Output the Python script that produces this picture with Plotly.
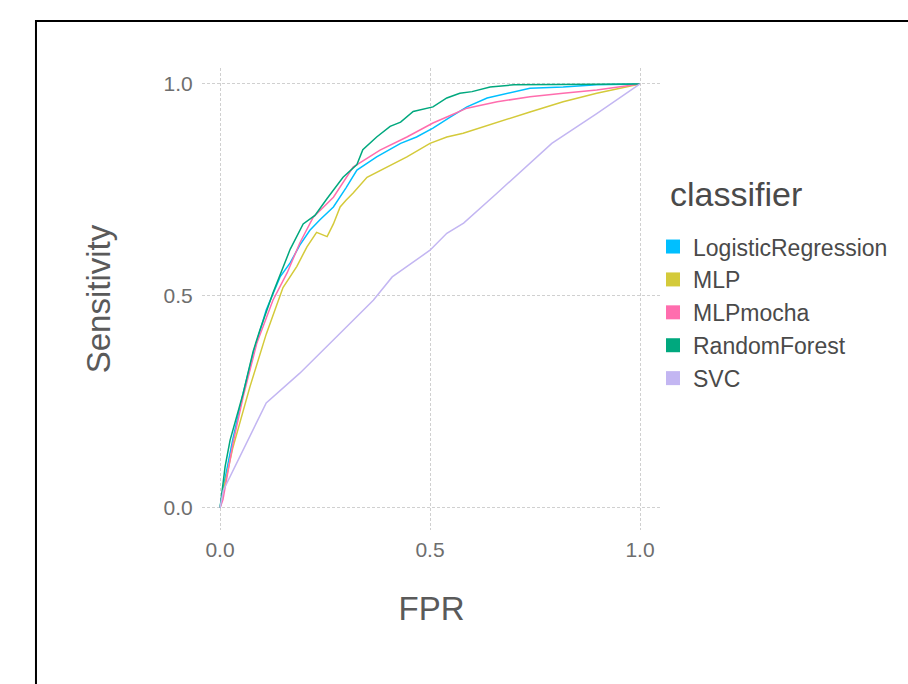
import plotly.graph_objects as go

classifiers = ["LogisticRegression", "MLP", "MLPmocha", "RandomForest", "SVC"]
colors = ["#00BFFF", "#D4CA3A", "#FF6DAE", "#00A87E", "#C3B6F2"]

lr_fpr = [0.0, 0.01, 0.03, 0.055, 0.079, 0.11, 0.143, 0.167, 0.19, 0.214, 0.238, 0.27, 0.3, 0.326, 0.373, 0.43, 0.468, 0.507, 0.548, 0.588, 0.636, 0.70, 0.738, 0.817, 0.897, 1.0]
lr_tpr = [0.0, 0.06, 0.16, 0.27, 0.365, 0.467, 0.545, 0.578, 0.62, 0.655, 0.68, 0.71, 0.755, 0.797, 0.828, 0.86, 0.875, 0.896, 0.922, 0.946, 0.967, 0.982, 0.99, 0.993, 0.998, 1.0]

mlp_fpr = [0.0, 0.01, 0.03, 0.071, 0.11, 0.15, 0.183, 0.207, 0.23, 0.255, 0.27, 0.286, 0.30, 0.317, 0.35, 0.398, 0.445, 0.5, 0.54, 0.579, 0.66, 0.738, 0.817, 0.897, 1.0]
mlp_tpr = [0.0, 0.05, 0.14, 0.285, 0.41, 0.52, 0.57, 0.616, 0.65, 0.64, 0.67, 0.71, 0.726, 0.743, 0.78, 0.804, 0.828, 0.86, 0.875, 0.884, 0.91, 0.934, 0.958, 0.978, 1.0]

mocha_fpr = [0.0, 0.007, 0.031, 0.055, 0.088, 0.126, 0.16, 0.19, 0.222, 0.27, 0.317, 0.381, 0.445, 0.507, 0.54, 0.588, 0.66, 0.738, 0.817, 0.897, 1.0]
mocha_tpr = [0.0, 0.02, 0.153, 0.262, 0.39, 0.49, 0.555, 0.625, 0.686, 0.733, 0.804, 0.844, 0.875, 0.908, 0.922, 0.943, 0.958, 0.97, 0.978, 0.986, 1.0]

rf_fpr = [0.0, 0.012, 0.024, 0.055, 0.079, 0.095, 0.126, 0.15, 0.167, 0.198, 0.226, 0.255, 0.293, 0.326, 0.34, 0.373, 0.405, 0.43, 0.46, 0.507, 0.54, 0.571, 0.60, 0.643, 0.70, 1.0]
rf_tpr = [0.0, 0.097, 0.16, 0.27, 0.37, 0.42, 0.507, 0.57, 0.61, 0.67, 0.69, 0.73, 0.78, 0.81, 0.845, 0.875, 0.90, 0.91, 0.935, 0.946, 0.967, 0.978, 0.982, 0.993, 0.998, 1.0]

svc_fpr = [0.0, 0.008, 0.11, 0.19, 0.286, 0.365, 0.41, 0.5, 0.54, 0.58, 0.66, 0.738, 0.79, 0.897, 1.0]
svc_tpr = [0.0, 0.042, 0.248, 0.318, 0.412, 0.49, 0.545, 0.608, 0.648, 0.672, 0.743, 0.813, 0.86, 0.93, 1.0]

fprs = [lr_fpr, mlp_fpr, mocha_fpr, rf_fpr, svc_fpr]
tprs = [lr_tpr, mlp_tpr, mocha_tpr, rf_tpr, svc_tpr]

x_ticks = [0.0, 0.5, 1.0]
y_ticks = [0.0, 0.5, 1.0]
tick_text = ["0.0", "0.5", "1.0"]

FONT = "Liberation Sans, Arial, sans-serif"

fig = go.Figure()
for name, c, fx, ty in zip(classifiers, colors, fprs, tprs):
    fig.add_trace(go.Scatter(x=fx, y=ty, mode="lines", line=dict(color=c, width=1.5),
                             name=name, showlegend=False, hoverinfo="x+y+name"))
for name, c in zip(classifiers, colors):
    fig.add_trace(go.Scatter(x=[None], y=[None], mode="markers",
                             marker=dict(symbol="square", size=14, color=c),
                             name=name, showlegend=True))

grid = dict(showgrid=True, gridcolor="#D0D0D0", gridwidth=1.2, griddash="3px,2px",
            zeroline=False, showline=False, ticks="outside",
            tickcolor="rgba(0,0,0,0)",
            tickfont=dict(family=FONT, size=21, color="#6E6E6E"))

fig.update_layout(
    width=908, height=684,
    margin=dict(l=202, r=247, t=68, b=154, autoexpand=False),
    paper_bgcolor="white", plot_bgcolor="white",
    xaxis=dict(range=[-0.0429, 1.05], tickvals=x_ticks, ticktext=tick_text, ticklen=1,
               title=dict(text="FPR", font=dict(family=FONT, size=33, color="#5A5A5A"), standoff=36),
               **grid),
    yaxis=dict(range=[-0.0519, 1.0377], tickvals=y_ticks, ticktext=tick_text, ticklen=4,
               title=dict(text="Sensitivity", font=dict(family=FONT, size=33, color="#5A5A5A"), standoff=43),
               **grid),
    legend=dict(x=0.9826, y=0.66, xanchor="left", yanchor="top",
                font=dict(family=FONT, size=23, color="#4A4A4A"),
                itemwidth=30, tracegroupgap=0, bgcolor="rgba(0,0,0,0)"),
    annotations=[dict(text="classifier", xref="paper", yref="paper",
                      x=(668 - 202) / 459, y=(530 - 194) / 462, xanchor="left", yanchor="middle",
                      showarrow=False, font=dict(family=FONT, size=34, color="#4A4A4A"))],
    shapes=[dict(type="rect", xref="paper", yref="paper",
                 x0=-0.3617, x1=1.6, y0=-0.4, y1=1.1017,
                 line=dict(color="black", width=2), layer="above")],
    showlegend=True,
)

fig.write_html("out.html")
